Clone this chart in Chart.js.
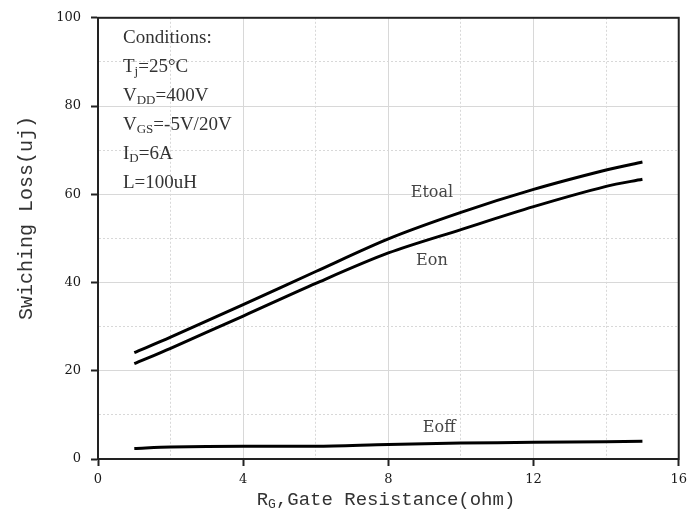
<!DOCTYPE html>
<html>
<head>
<meta charset="utf-8">
<script src="https://cdn.jsdelivr.net/npm/chart.js@4.4.1/dist/chart.umd.min.js"></script>
<style>
  html, body { margin: 0; padding: 0; background: #fff; }
  #wrap { width: 693px; height: 526px; }
</style>
</head>
<body>
<div id="wrap"><canvas id="chartLoss" width="693" height="526"></canvas></div>
<script>
// datos
const rgValues = [1, 2, 4, 6, 8, 10, 12, 14, 15];
const etotal = [24.1, 27.6, 35.0, 42.5, 49.9, 55.9, 61.1, 65.5, 67.3];
const eon = [21.6, 25.1, 32.4, 39.8, 46.7, 52.0, 57.2, 61.8, 63.4];
const eoff = [2.4, 2.7, 2.9, 2.9, 3.3, 3.6, 3.8, 3.9, 4.0];
const xTicks = [0, 4, 8, 12, 16];
const yTicks = [0, 20, 40, 60, 80, 100];

// textos
const curveLabels = [
  { text: "Etoal", x: 9.2, y: 60.4 },
  { text: "Eon", x: 9.2, y: 44.9 },
  { text: "Eoff", x: 9.4, y: 7.0 },
];
const conditions = [
  [["Conditions:", false]],
  [["T", false], ["j", true], ["=25°C", false]],
  [["V", false], ["DD", true], ["=400V", false]],
  [["V", false], ["GS", true], ["=-5V/20V", false]],
  [["I", false], ["D", true], ["=6A", false]],
  [["L=100uH", false]],
];

function toPoints(ys) {
  return rgValues.map((x, i) => ({ x: x, y: ys[i] }));
}

function drawRich(ctx, parts, x, y, size, subSize) {
  let cx = x;
  parts.forEach(([t, sub]) => {
    ctx.font = (sub ? subSize : size) + "px 'Liberation Serif'";
    ctx.fillText(t, cx, sub ? y + 5 : y);
    cx += ctx.measureText(t).width;
  });
}

const extras = {
  id: "extras",
  afterDraw(chart) {
    const ctx = chart.ctx;
    const a = chart.chartArea;
    const xs = chart.scales.x;
    const ys = chart.scales.y;
    ctx.save();
    // marco
    ctx.strokeStyle = "#222";
    ctx.lineWidth = 2;
    ctx.strokeRect(a.left, a.top, a.right - a.left, a.bottom - a.top);

    // condiciones
    ctx.fillStyle = "#333";
    ctx.textBaseline = "middle";
    ctx.textAlign = "left";
    conditions.forEach((parts, i) => {
      drawRich(ctx, parts, 123, 38 + i * 29, 19, 13);
    });

    // etiquetas de curvas
    ctx.font = "16px 'DejaVu Serif'";
    ctx.fillStyle = "#444";
    ctx.textAlign = "center";
    curveLabels.forEach((l) => {
      ctx.fillText(l.text, xs.getPixelForValue(l.x), ys.getPixelForValue(l.y));
    });

    // titulos de ejes
    ctx.fillStyle = "#333";
    const t1 = "R";
    const t2 = "G";
    const t3 = ",Gate Resistance(ohm)";
    ctx.textAlign = "left";
    ctx.font = "19px 'Liberation Mono'";
    const w1 = ctx.measureText(t1).width;
    const w3 = ctx.measureText(t3).width;
    ctx.font = "13px 'Liberation Mono'";
    const w2 = ctx.measureText(t2).width;
    const sx = 386 - (w1 + w2 + w3) / 2;
    ctx.font = "19px 'Liberation Mono'";
    ctx.fillText(t1, sx, 500);
    ctx.font = "13px 'Liberation Mono'";
    ctx.fillText(t2, sx + w1, 505);
    ctx.font = "19px 'Liberation Mono'";
    ctx.fillText(t3, sx + w1 + w2, 500);

    ctx.translate(27, 218);
    ctx.rotate(-Math.PI / 2);
    ctx.textAlign = "center";
    ctx.font = "20px 'Liberation Mono'";
    ctx.fillText("Swiching Loss(uj)", 0, 0);
    ctx.restore();
  },
};

const isMajor = (v, list) => list.includes(v);

new Chart(document.getElementById("chartLoss"), {
  type: "line",
  data: {
    datasets: [
      { label: "Etotal", data: toPoints(etotal) },
      { label: "Eon", data: toPoints(eon) },
      { label: "Eoff", data: toPoints(eoff) },
    ].map((d) => ({
      ...d,
      borderColor: "#000",
      borderWidth: 3,
      pointRadius: 0,
      tension: 0.3,
      fill: false,
    })),
  },
  options: {
    responsive: false,
    animation: false,
    layout: { padding: { top: 14, right: 12, left: 0, bottom: 0 } },
    plugins: { legend: { display: false }, tooltip: { enabled: false } },
    scales: {
      x: {
        type: "linear",
        min: 0,
        max: 16,
        afterFit: (s) => { s.height = 67; },
        ticks: {
          stepSize: 2,
          padding: 6,
          color: "#1a1a1a",
          font: { family: "DejaVu Serif", size: 13 },
          callback: (v) => (isMajor(v, xTicks) ? v : ""),
        },
        grid: {
          color: "#d8d8d8",
          lineWidth: 1,
          tickLength: 7,
          tickWidth: 2,
          tickColor: (c) => (isMajor(c.tick && c.tick.value, xTicks) ? "#222" : "rgba(0,0,0,0)"),
        },
        border: {
          color: "#222",
          width: 2,
          dash: (c) => (c.tick && isMajor(c.tick.value, xTicks) ? [] : [2, 2]),
        },
      },
      y: {
        min: 0,
        max: 100,
        afterFit: (s) => { s.width = 98; },
        ticks: {
          stepSize: 10,
          padding: 10,
          color: "#1a1a1a",
          font: { family: "DejaVu Serif", size: 13 },
          callback: (v) => (isMajor(v, yTicks) ? v : ""),
        },
        grid: {
          color: "#d8d8d8",
          lineWidth: 1,
          tickLength: 7,
          tickWidth: 2,
          tickColor: (c) => (isMajor(c.tick && c.tick.value, yTicks) ? "#222" : "rgba(0,0,0,0)"),
        },
        border: {
          color: "#222",
          width: 2,
          dash: (c) => (c.tick && isMajor(c.tick.value, yTicks) ? [] : [2, 2]),
        },
      },
    },
  },
  plugins: [extras],
});
</script>
</body>
</html>
